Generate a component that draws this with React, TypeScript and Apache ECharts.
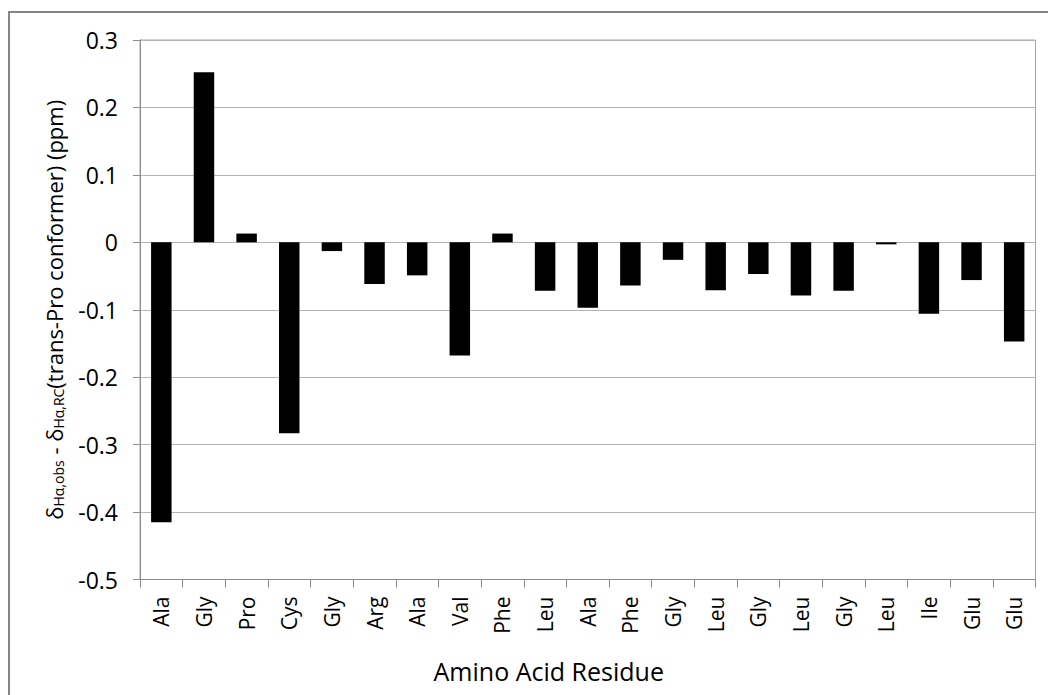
import React, { useEffect, useRef } from "react";
import * as echarts from "echarts";

// Residues along the peptide, in sequence order
const residues: string[] = [
  "Ala", "Gly", "Pro", "Cys", "Gly", "Arg", "Ala", "Val", "Phe", "Leu", "Ala",
  "Phe", "Gly", "Leu", "Gly", "Leu", "Gly", "Leu", "Ile", "Glu", "Glu",
];

// Secondary chemical shift of Hα relative to random coil (ppm)
const shiftDiff: number[] = [
  -0.415, 0.252, 0.013, -0.283, -0.013, -0.062, -0.049, -0.168, 0.013, -0.072, -0.097,
  -0.064, -0.026, -0.071, -0.047, -0.079, -0.072, -0.003, -0.106, -0.056, -0.147,
];

const yMin = -0.5;
const yMax = 0.3;
const yStep = 0.1;

const FONT = "'Open Sans', 'Noto Sans', sans-serif";

export default function App() {
  const ref = useRef<HTMLDivElement>(null);

  useEffect(() => {
    if (!ref.current) return;
    const chart = echarts.init(ref.current, null, { renderer: "svg" });
    chart.setOption({
      animation: false,
      backgroundColor: "#ffffff",
      graphic: [
        {
          type: "rect",
          shape: { x: 9, y: 12, width: 1060, height: 720 },
          style: { fill: "none", stroke: "#868686", lineWidth: 2 },
          silent: true,
          z: 100,
        },
      ],
      grid: {
        left: 140,
        right: 1048 - 1035.5,
        top: 40,
        bottom: 695 - 579.5,
        show: true,
        borderColor: "#a6a6a6",
        borderWidth: 1,
        backgroundColor: "transparent",
      },
      xAxis: {
        type: "category",
        data: residues,
        name: "Amino Acid Residue",
        nameLocation: "middle",
        nameGap: 79,
        nameTextStyle: {
          fontFamily: FONT,
          fontSize: 25,
          color: "#000",
          padding: [0, 78, 0, 0],
        },
        axisLine: { onZero: false, lineStyle: { color: "#8c8c8c", width: 1 } },
        axisTick: { show: true, length: 8, lineStyle: { color: "#8c8c8c" } },
        axisLabel: {
          rotate: 90,
          margin: 17,
          fontFamily: FONT,
          fontSize: 21,
          color: "#000",
          interval: 0,
        },
        splitLine: { show: false },
      },
      yAxis: {
        type: "value",
        min: yMin,
        max: yMax,
        interval: yStep,
        name:
          "{m|δ}{s|Hα,obs}{m| - δ}{s|Hα,RC}{m|(trans-Pro conformer) (ppm)}",
        nameLocation: "middle",
        nameGap: 75,
        nameTextStyle: {
          fontFamily: FONT,
          color: "#000",
          rich: {
            m: { fontFamily: FONT, fontSize: 22, color: "#000", lineHeight: 28, verticalAlign: "bottom" },
            s: { fontFamily: FONT, fontSize: 14, color: "#000", lineHeight: 28, verticalAlign: "bottom", padding: [8, 0, 0, 0] },
          },
        },
        axisLine: { show: true, lineStyle: { color: "#8c8c8c", width: 1 } },
        axisTick: { show: true, length: 7, lineStyle: { color: "#8c8c8c" } },
        axisLabel: {
          margin: 22,
          fontFamily: FONT,
          fontSize: 23,
          color: "#000",
          formatter: (v: number) => String(parseFloat(v.toFixed(1))),
        },
        splitLine: { show: true, lineStyle: { color: "#b4b4b4", width: 1 } },
      },
      series: [
        {
          type: "bar",
          data: shiftDiff,
          barWidth: "48%",
          itemStyle: { color: "#000000" },
        },
      ],
    });
    return () => chart.dispose();
  }, []);

  return (
    <div
      ref={ref}
      style={{ position: "fixed", left: 0, top: 0, width: 1048, height: 695 }}
    />
  );
}
